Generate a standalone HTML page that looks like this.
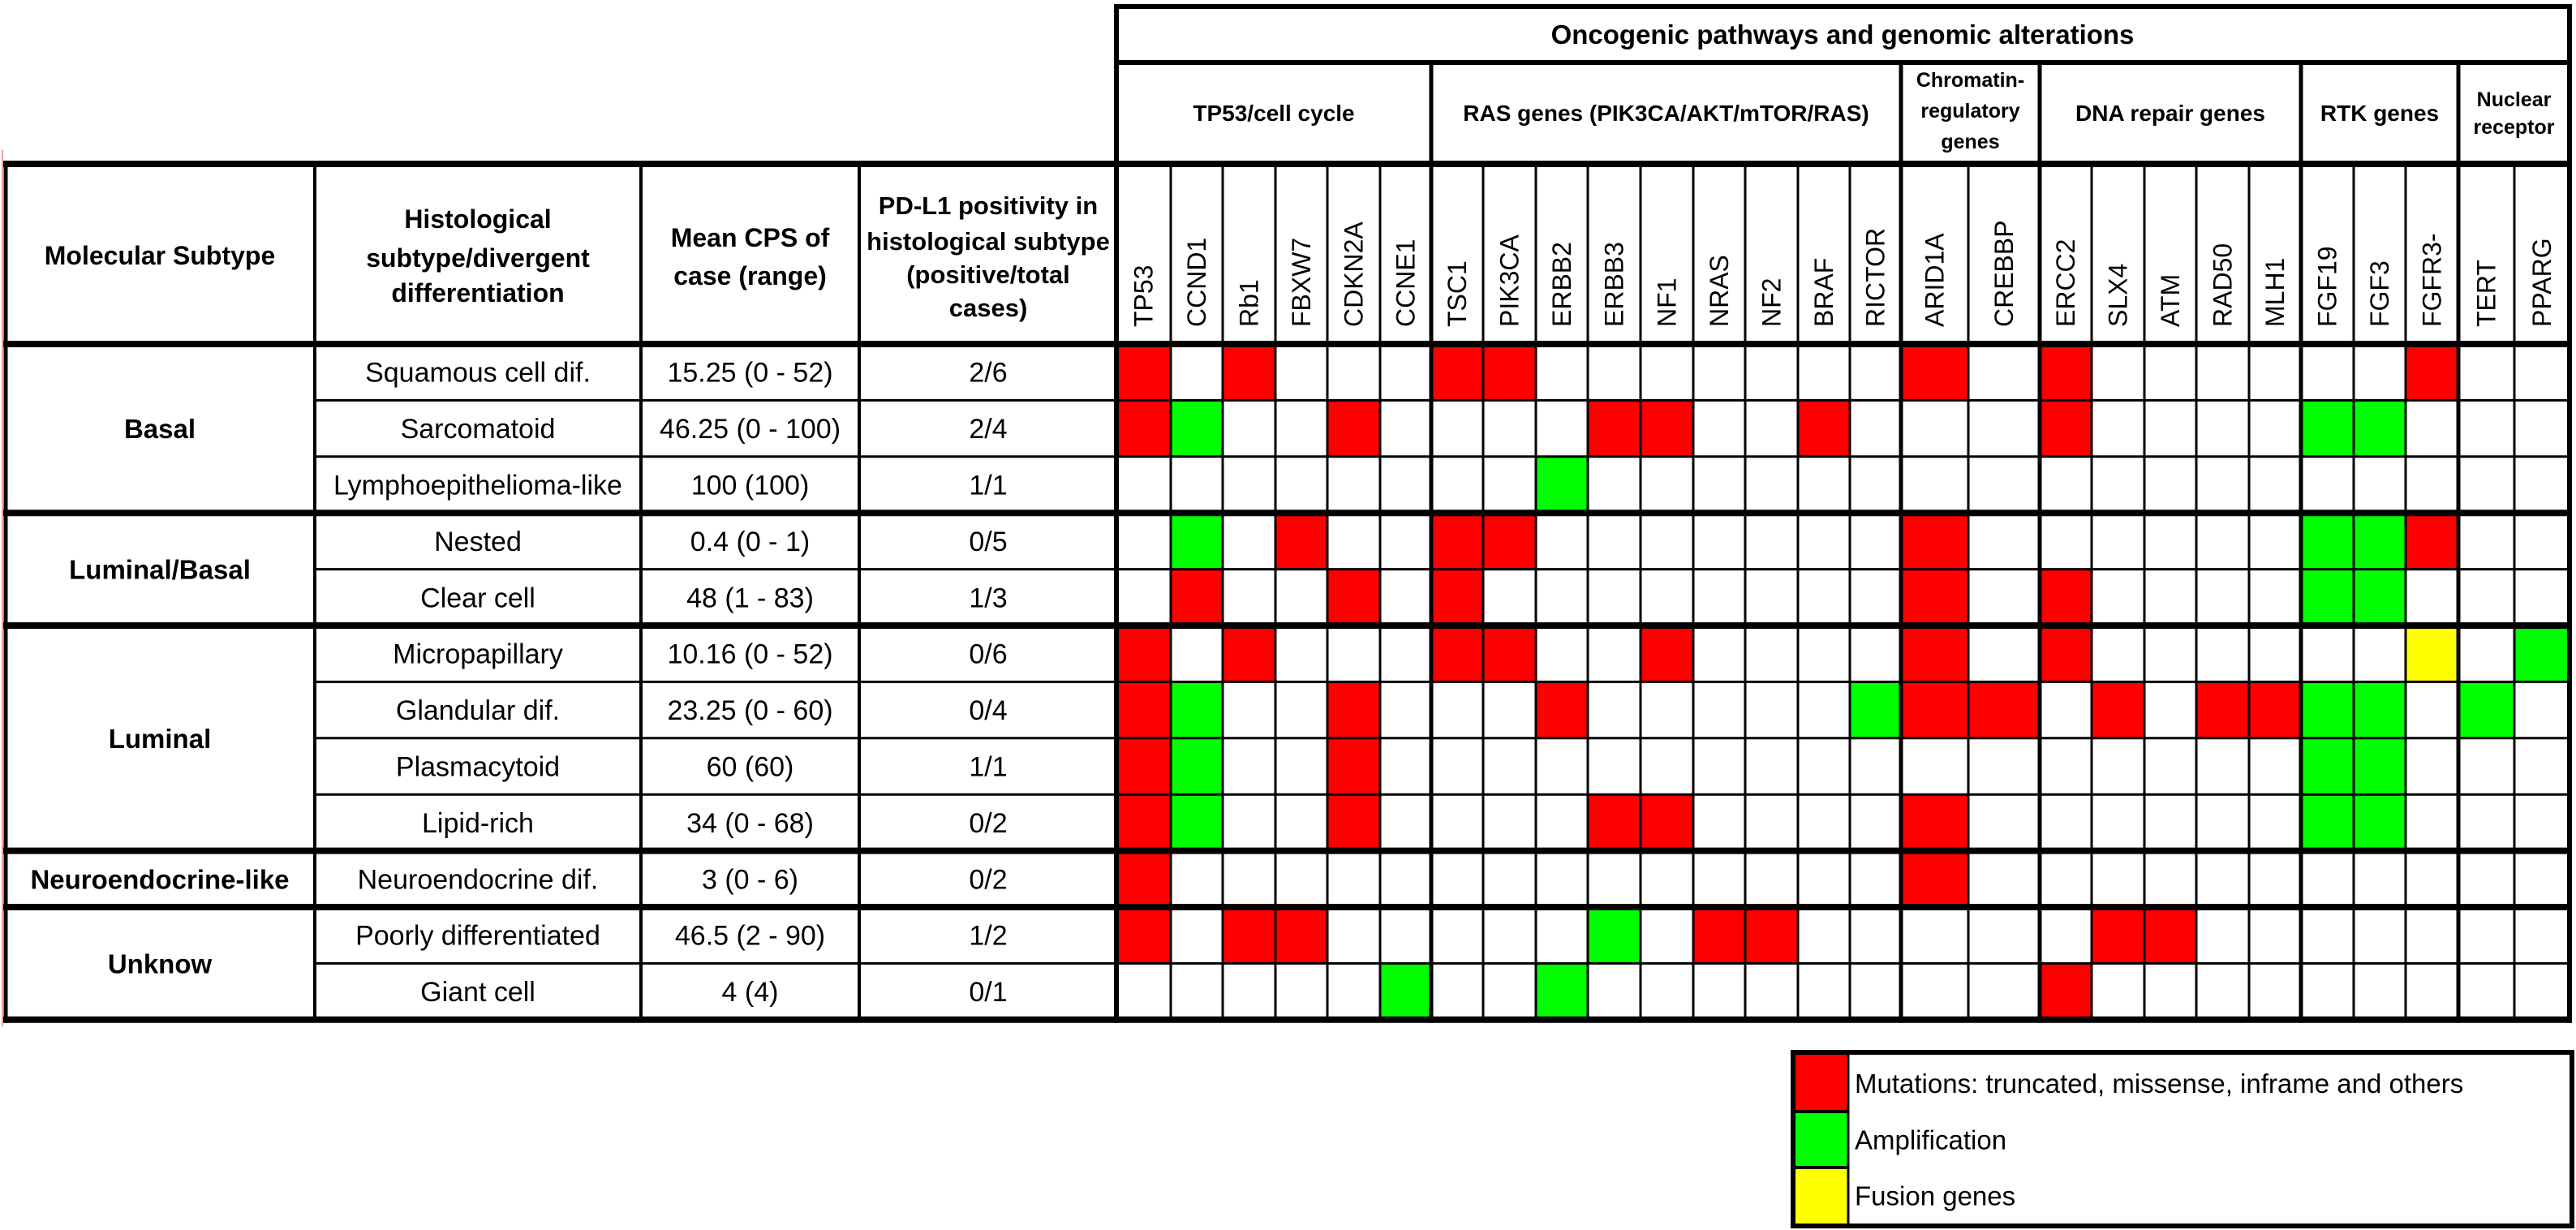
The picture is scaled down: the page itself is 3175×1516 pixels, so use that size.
<!DOCTYPE html>
<html><head><meta charset="utf-8"><title>Oncogenic pathways table</title>
<style>
html,body{margin:0;padding:0;background:#fff;}
svg{display:block;font-family:"Liberation Sans",Arial,sans-serif;}
</style></head>
<body>
<svg id="chart" width="3175" height="1516" viewBox="0 0 3175 1516" xmlns="http://www.w3.org/2000/svg">
<g id="cells"></g>
<g id="lines"></g>
<g id="texts"></g>
<g id="legend"></g>
</svg>
<script>
// ---- data ----
const genes = ["TP53","CCND1","Rb1","FBXW7","CDKN2A","CCNE1","TSC1","PIK3CA","ERBB2","ERBB3","NF1","NRAS","NF2","BRAF","RICTOR","ARID1A","CREBBP","ERCC2","SLX4","ATM","RAD50","MLH1","FGF19","FGF3","FGFR3-","TERT","PPARG"];
const pathways = ["TP53/cell cycle","RAS genes (PIK3CA/AKT/mTOR/RAS)","Chromatin-|regulatory|genes","DNA repair genes","RTK genes","Nuclear|receptor"];
const pathwaySizes = [6,9,2,5,3,2];
const subtypes = ["Basal","Luminal/Basal","Luminal","Neuroendocrine-like","Unknow"];
const subtypeSizes = [3,2,4,1,2];
const histology = ["Squamous cell dif.","Sarcomatoid","Lymphoepithelioma-like","Nested","Clear cell","Micropapillary","Glandular dif.","Plasmacytoid","Lipid-rich","Neuroendocrine dif.","Poorly differentiated","Giant cell"];
const meanCPS = ["15.25 (0 - 52)","46.25 (0 - 100)","100 (100)","0.4 (0 - 1)","48 (1 - 83)","10.16 (0 - 52)","23.25 (0 - 60)","60 (60)","34 (0 - 68)","3 (0 - 6)","46.5 (2 - 90)","4 (4)"];
const pdl1 = ["2/6","2/4","1/1","0/5","1/3","0/6","0/4","1/1","0/2","0/2","1/2","0/1"];
// R = mutation, G = amplification, Y = fusion, . = none (27 genes per row)
const alterations = [
"R.R...RR.......R.R......R..",
"RG..R....RR..R...R....GG...",
"........G..................",
".G.R..RR.......R......GGR..",
".R..R.R........R.R....GG...",
"R.R...RR..R....R.R......Y.G",
"RG..R...R.....GRR.R.RRGG.G.",
"RG..R.................GG...",
"RG..R....RR....R......GG...",
"R..............R...........",
"R.RR.....G.RR.....RR.......",
".....G..G........R........."
];
const legendLabels = ["Mutations: truncated, missense, inframe and others","Amplification","Fusion genes"];
const colorMap = {R:"#ff0000",G:"#00ff00",Y:"#ffff00"};
const legendKeys = ["R","G","Y"];

// ---- geometry ----
const NS="http://www.w3.org/2000/svg";
const colX=[1376,1443,1507,1572,1636,1701,1764,1828,1893,1957,2022,2087,2151,2216,2280,2343,2426,2514,2578,2643,2707,2772,2836,2901,2965,3030,3099,3167];
const leftCols=[7,388,790,1059,1376];
const rowTop=424, rowH=69.4;
function rowY(i){return rowTop+i*rowH;}
function el(tag,attrs,parent){const e=document.createElementNS(NS,tag);for(const k in attrs)e.setAttribute(k,attrs[k]);parent.appendChild(e);return e;}
const gCells=document.getElementById('cells'),gLines=document.getElementById('lines'),gText=document.getElementById('texts'),gLeg=document.getElementById('legend');

// cells
alterations.forEach((row,r)=>{
  for(let c=0;c<genes.length;c++){
    const k=row[c];
    if(k==='.')continue;
    const rc=el('rect',{x:colX[c],y:rowY(r),width:colX[c+1]-colX[c],height:rowH,fill:colorMap[k]},gCells);
    
    
  }
});

function line(x1,y1,x2,y2,w,col){const l=el('line',{x1,y1,x2,y2,stroke:col||'#000','stroke-width':w},gLines);return l;}
// faint red left line
line(3,185,3,1265,1.5,'#f08080');
// group boundaries (row indices)
const groupBounds=[0];subtypeSizes.reduce((a,s)=>{groupBounds.push(a+s);return a+s;},0);
const bottom=rowY(histology.length);
// thin row lines
for(let r=1;r<histology.length;r++){
  if(groupBounds.includes(r))continue;
  line(388,rowY(r),3167,rowY(r),3);
}
// thin gene verticals
const thickGene=[0];pathwaySizes.reduce((a,s)=>{thickGene.push(a+s);return a+s;},0);
for(let c=0;c<colX.length;c++){
  if(thickGene.includes(c))continue;
  line(colX[c],202,colX[c],bottom,3);
}
// thick gene verticals
thickGene.forEach(c=>{line(colX[c],(c===0||c===genes.length)?5:77,colX[c],bottom+4,c===0||c===genes.length?6:5);});
// left verticals
line(7,198,7,bottom+4,5);
[388,790,1059].forEach(x=>line(x,202,x,bottom,4));
// thick horizontals
line(1373,8,3170,8,6);
line(1373,77,3170,77,6);
line(4,202,3170,202,8);
line(4,424,3170,424,8);
groupBounds.slice(1).forEach(r=>line(4,rowY(r),3170,rowY(r),8));

// text helper
function txt(s,x,y,size,bold,name,anchor){
  const t=el('text',{x,y,'font-size':size,'font-weight':bold?'bold':'normal','text-anchor':anchor||'middle',fill:'#000'},gText);
  t.textContent=s;
  
  
  return t;
}
// headers
txt("Oncogenic pathways and genomic alterations",2271,54,33,true,'main-header');
let ci=0;
pathways.forEach((p,i)=>{
  const x0=colX[ci],x1=colX[ci+pathwaySizes[i]];ci+=pathwaySizes[i];
  const lines=p.split('|');const cx=(x0+x1)/2;
  const fs=lines.length>1?25:28;
  const sp=lines.length===3?38:34;
  const cy=lines.length===3?136:(lines.length===2?139:139);
  lines.forEach((ln,j)=>{txt(ln,cx,cy+(j-(lines.length-1)/2)*sp+fs*0.36,fs,true,'pathway-header-'+(i+1));});
});
// gene labels (rotated)
genes.forEach((g,c)=>{
  const cx=(colX[c]+colX[c+1])/2+11;
  const t=txt(g,cx,403,32,false,'gene-label-'+g.replace('-',''),'start');
  t.setAttribute('transform','rotate(-90 '+cx+' 403)');
});
// left headers
txt("Molecular Subtype",197,326,32,true,'molecular-subtype-header');
[["Histological",270],["subtype/divergent",318],["differentiation",361]].forEach(a=>txt(a[0],589,a[1]+11,32,true,'histological-header'));
[["Mean CPS of",293],["case (range)",340]].forEach(a=>txt(a[0],924.5,a[1]+11,32,true,'mean-cps-header'));
[["PD-L1 positivity in",253],["histological subtype",297],["(positive/total",338],["cases)",379]].forEach(a=>txt(a[0],1218,a[1]+11,31,true,'pdl1-header'));
// subtype labels
let rs=0;
subtypes.forEach((s,i)=>{
  const cy=(rowY(rs)+rowY(rs+subtypeSizes[i]))/2;rs+=subtypeSizes[i];
  txt(s,197,cy+12,33,true,'subtype-'+s.toLowerCase().replace(/[^a-z]/g,'-'));
});
// row data
histology.forEach((h,r)=>{
  const cy=rowY(r)+rowH/2+12;
  txt(h,589,cy,34,false,'histology-row-'+(r+1));
  txt(meanCPS[r],924.5,cy,34,false,'mean-cps-row-'+(r+1));
  txt(pdl1[r],1218,cy,34,false,'pdl1-row-'+(r+1));
});

// legend
const lx0=2210,lx1=3170,ly0=1297,ly1=1511;
const legY=[1300,1370,1439,1508];
legendKeys.forEach((k,i)=>{
  const r=el('rect',{x:lx0,y:legY[i],width:67,height:legY[i+1]-legY[i],fill:colorMap[k]},gLeg);
  
  
  const t=el('text',{x:2286,y:(legY[i]+legY[i+1])/2+12,'font-size':33,fill:'#000'},gLeg);
  t.textContent=legendLabels[i];
  
  
  if(i>0){el('line',{x1:lx0,y1:legY[i],x2:2278,y2:legY[i],stroke:'#000','stroke-width':4},gLeg);}
});
el('line',{x1:2278,y1:ly0,x2:2278,y2:ly1,stroke:'#000','stroke-width':3},gLeg);
el('rect',{x:lx0,y:ly0,width:lx1-lx0,height:ly1-ly0,fill:'none',stroke:'#000','stroke-width':6},gLeg);
</script>
</body></html>
